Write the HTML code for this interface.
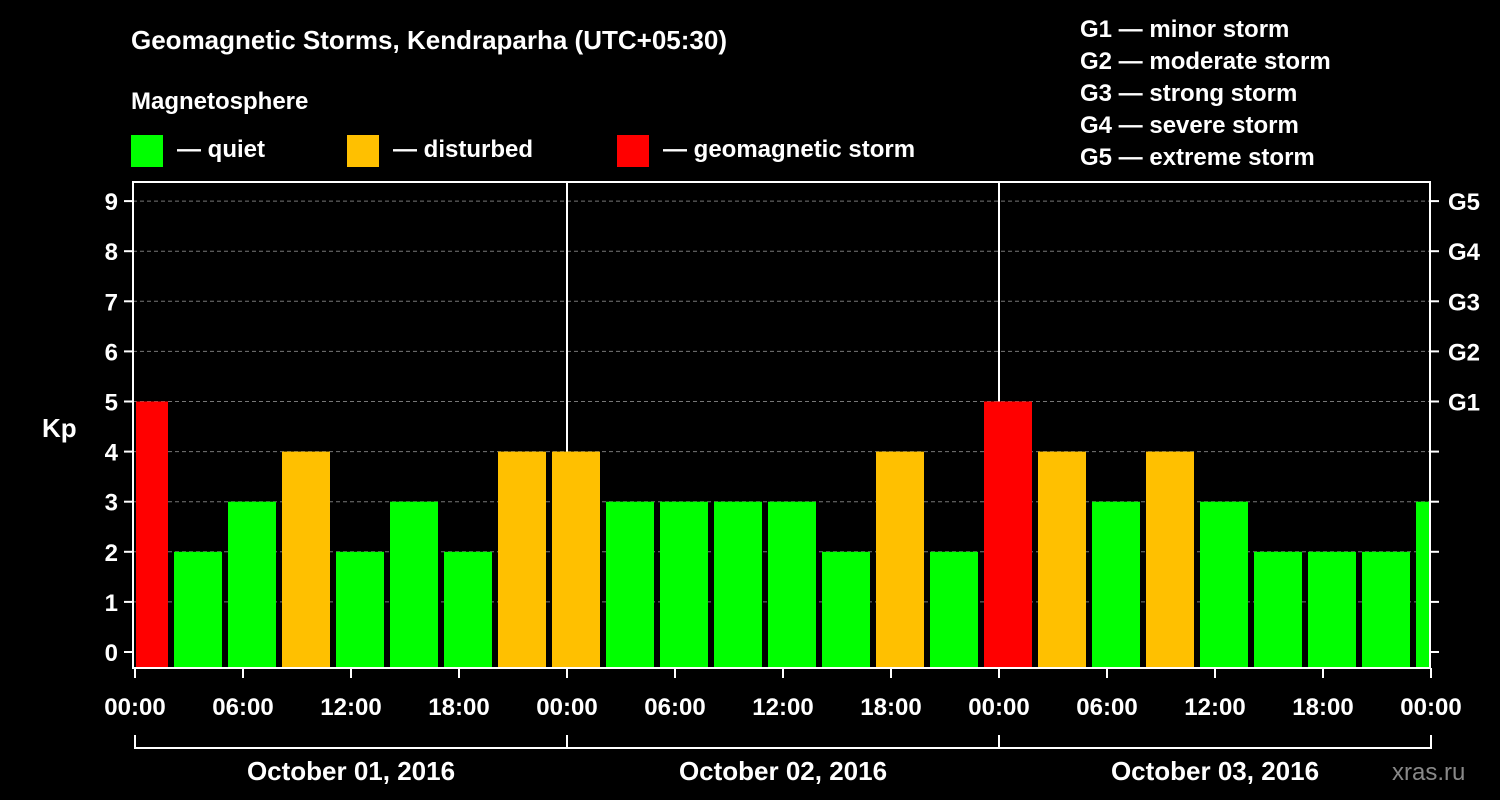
<!DOCTYPE html>
<html><head><meta charset="utf-8"><style>
body{margin:0;background:#000;}
svg{display:block;font-family:"Liberation Sans",Arial,sans-serif;font-weight:bold;}
</style></head><body>
<svg id="chart" width="1500" height="800" viewBox="0 0 1500 800">
<rect width="1500" height="800" fill="#000"/>
<text x="131" y="49" fill="#fff" font-size="26">Geomagnetic Storms, Kendraparha (UTC+05:30)</text>
<text x="131" y="109" fill="#fff" font-size="24">Magnetosphere</text>
<g><rect x="131" y="135" width="32" height="32" fill="#00ff00"/><text x="177" y="157" fill="#fff" font-size="24">— quiet</text></g>
<g><rect x="347" y="135" width="32" height="32" fill="#ffc000"/><text x="393" y="157" fill="#fff" font-size="24">— disturbed</text></g>
<g><rect x="617" y="135" width="32" height="32" fill="#ff0000"/><text x="663" y="157" fill="#fff" font-size="24">— geomagnetic storm</text></g>
<g fill="#fff" font-size="24">
<text x="1080" y="37">G1 — minor storm</text><text x="1080" y="69">G2 — moderate storm</text><text x="1080" y="101">G3 — strong storm</text><text x="1080" y="133">G4 — severe storm</text><text x="1080" y="165">G5 — extreme storm</text>
</g>
<g id="grid"></g>
<g id="bars"></g>
<g id="axes"></g>
<rect x="133" y="182" width="1297" height="486" fill="none" stroke="#fff" stroke-width="2"/>
<text x="42" y="437" fill="#fff" font-size="26">Kp</text>
<text x="1392" y="780" fill="#888" font-size="24" font-weight="normal">xras.ru</text>
</svg>
<script>
const kpValues=[5,2,3,4,2,3,2,4,4,3,3,3,3,2,4,2,5,4,3,4,3,2,2,2,3];
const firstBarStartHour=-1;
const dayLabels=["October 01, 2016","October 02, 2016","October 03, 2016"];
const xTickLabels=["00:00","06:00","12:00","18:00","00:00","06:00","12:00","18:00","00:00","06:00","12:00","18:00","00:00"];
const kpTicks=[0,1,2,3,4,5,6,7,8,9];
const gLabels=["G1","G2","G3","G4","G5"];
const NS="http://www.w3.org/2000/svg";
const x0=135,pxPerHour=18,xMax=1430;
const X=h=>x0+h*pxPerHour;
const Y=v=>652-v*50.1;
function mk(tag,attrs,parent){const e=document.createElementNS(NS,tag);for(const k in attrs)e.setAttribute(k,attrs[k]);document.getElementById(parent).appendChild(e);return e;}
kpTicks.forEach(v=>{
 if(v>0){const g=mk('line',{x1:133,x2:1430,y1:Y(v),y2:Y(v),stroke:'#777','stroke-dasharray':'4,3','stroke-width':1},'grid');
 
 }
 const t=mk('text',{x:118,y:Y(v)+9,fill:'#fff','font-size':24,'text-anchor':'end'},'axes');t.textContent=v;
 
 
 mk('line',{x1:124,x2:133,y1:Y(v),y2:Y(v),stroke:'#fff','stroke-width':2},'axes');
 mk('line',{x1:1430,x2:1439,y1:Y(v),y2:Y(v),stroke:'#fff','stroke-width':2},'axes');
});
gLabels.forEach((g,i)=>{const t=mk('text',{x:1448,y:Y(5+i)+9,fill:'#fff','font-size':24},'axes');t.textContent=g;
 
 });
for(let d=1;d<3;d++){const l=mk('line',{x1:X(24*d),x2:X(24*d),y1:182,y2:668,stroke:'#fff','stroke-width':2},'grid');
 
 }
kpValues.forEach((v,i)=>{
 const s=firstBarStartHour+3*i;
 let a=Math.max(X(s)+3,X(0)+1),b=Math.min(X(s+3)-3,xMax);
 const c=v>=5?'#ff0000':v>=4?'#ffc000':'#00ff00';
 const r=mk('rect',{x:a,y:Y(v),width:b-a,height:668-Y(v),fill:c},'bars');
 
 
});
xTickLabels.forEach((t,i)=>{const h=i*6;
 mk('line',{x1:X(h),x2:X(h),y1:668,y2:678,stroke:'#fff','stroke-width':2},'axes');
 const e=mk('text',{x:X(h),y:715,fill:'#fff','font-size':24,'text-anchor':'middle'},'axes');e.textContent=t;
 
 });
mk('line',{x1:X(0),x2:X(72),y1:748,y2:748,stroke:'#fff','stroke-width':2},'axes');
for(let d=0;d<=3;d++)mk('line',{x1:X(24*d),x2:X(24*d),y1:735,y2:749,stroke:'#fff','stroke-width':2},'axes');
dayLabels.forEach((t,d)=>{const e=mk('text',{x:X(24*d+12),y:780,fill:'#fff','font-size':26,'text-anchor':'middle'},'axes');e.textContent=t;
 
 });
</script>
</body></html>
